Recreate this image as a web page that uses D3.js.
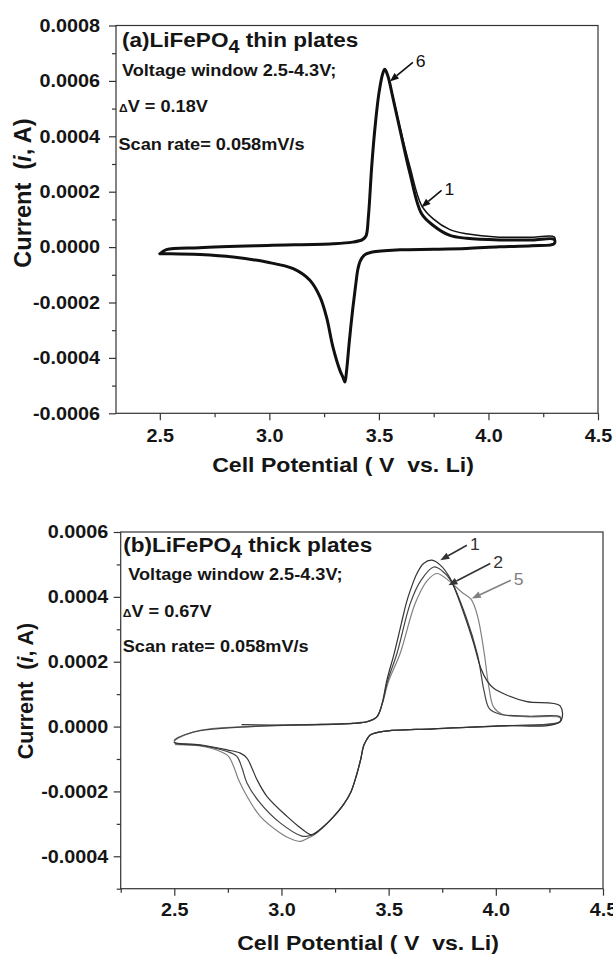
<!DOCTYPE html>
<meta charset="utf-8">
<style>
body { margin: 0; background: #fff; }
text { font-family: "Liberation Sans", Arial, sans-serif; fill: #151515; }
.axis path, .axis line { stroke: #333; stroke-width: 1.2; }
.axis text { font-size: 18px; font-weight: bold; fill: #151515; font-family: "Liberation Sans", Arial, sans-serif; }
.cv { fill: none; stroke-linejoin: round; stroke-linecap: round; }
</style>
<body>
<script src="https://cdn.jsdelivr.net/npm/d3@7"></script>
<script>

// tick values
var xTicks = [2.5, 3.0, 3.5, 4.0, 4.5];
var xMinorA = [2.75, 3.25, 3.75, 4.25];
var xMinorB = [2.25, 2.75, 3.25, 3.75, 4.25];
var yTicksA = [-0.0006, -0.0004, -0.0002, 0, 0.0002, 0.0004, 0.0006, 0.0008];
var yMinorA = [-0.0005, -0.0003, -0.0001, 0.0001, 0.0003, 0.0005, 0.0007];
var yTicksB = [-0.0004, -0.0002, 0, 0.0002, 0.0004, 0.0006];
var yMinorB = [-0.0005, -0.0003, -0.0001, 0.0001, 0.0003, 0.0005];

// (a) thin plates, [V, A]
var thinCycle1 = [
  [2.50,-0.000024],[2.53,-0.000009],[2.68,-0.000002],[2.99,0.000006],[3.29,0.000012],
  [3.38,0.000018],[3.425,0.000027],[3.441,0.00004],[3.452,0.00011],[3.467,0.00029],
  [3.482,0.00043],[3.50,0.000555],[3.518,0.000628],[3.527,0.000644],[3.54,0.000622],
  [3.565,0.00054],[3.596,0.000433],[3.642,0.000289],[3.695,0.00015],[3.748,0.000102],
  [3.824,0.000063],[3.90,0.000048],[4.05,0.000036],[4.20,0.000036],[4.30,0.000037],
  [4.30,0.000014],[4.20,0.000006],[4.05,0.000001],[3.90,-0.000005],[3.75,-0.000008],
  [3.596,-0.00001],[3.47,-0.000018],[3.435,-0.000028],[3.415,-0.00005],[3.404,-0.00008],
  [3.395,-0.00013],[3.381,-0.00022],[3.365,-0.00034],[3.352,-0.00045],[3.345,-0.000487],
  [3.336,-0.00047],[3.322,-0.000445],[3.29,-0.00036],[3.261,-0.000253],[3.231,-0.00018],
  [3.185,-0.00012],[3.109,-0.000078],[2.987,-0.000054],[2.835,-0.000036],[2.683,-0.000027],
  [2.55,-0.000024],[2.50,-0.000024]
];
var thinCycle6 = [
  [2.50,-0.000024],[2.53,-0.000009],[2.68,-0.000002],[2.99,0.000006],[3.29,0.000012],
  [3.38,0.000018],[3.425,0.000027],[3.441,0.00004],[3.452,0.00011],[3.467,0.00029],
  [3.482,0.00043],[3.50,0.000555],[3.518,0.000628],[3.527,0.000642],[3.54,0.00062],
  [3.565,0.000535],[3.596,0.000425],[3.642,0.000265],[3.695,0.00012],[3.748,0.000078],
  [3.824,0.000042],[3.90,0.000032],[4.05,0.000026],[4.20,0.000026],[4.30,0.000028],
  [4.30,0.000012],[4.20,0.000005],[4.05,0.000001],[3.90,-0.000005],[3.75,-0.000008],
  [3.596,-0.00001],[3.47,-0.000018],[3.435,-0.000028],[3.415,-0.00005],[3.404,-0.00008],
  [3.395,-0.00013],[3.381,-0.00022],[3.365,-0.00034],[3.352,-0.00045],[3.345,-0.000487],
  [3.336,-0.00047],[3.322,-0.000445],[3.29,-0.00036],[3.261,-0.000253],[3.231,-0.00018],
  [3.185,-0.00012],[3.109,-0.000078],[2.987,-0.000054],[2.835,-0.000036],[2.683,-0.000027],
  [2.55,-0.000024],[2.50,-0.000024]
];

// (b) thick plates, [V, A]
var thickCycle1 = [
  [2.816,0.000006],[3.09,0.000005],[3.336,0.00001],[3.40,0.000015],[3.445,0.00003],
  [3.469,0.00007],[3.492,0.000144],[3.526,0.000226],[3.56,0.00032],[3.582,0.00038],
  [3.601,0.00042],[3.632,0.000472],[3.663,0.000503],[3.702,0.000513],[3.741,0.000498],
  [3.787,0.000457],[3.85,0.00035],[3.895,0.00026],[3.93,0.00018],[3.96,0.00014],
  [3.99,0.000118],[4.05,0.0000975],[4.145,0.000077],[4.30,0.000064],
  [4.30,0.000015],[4.02,0.000002],[3.709,-0.000007],[3.476,-0.000015],[3.414,-0.000026],
  [3.398,-0.00004],[3.383,-0.00006],[3.37,-0.0001],[3.35,-0.00015],[3.325,-0.0002],
  [3.29,-0.00024],[3.24,-0.00028],[3.19,-0.000312],[3.15,-0.000331],[3.134,-0.000333],
  [3.08,-0.000308],[3.026,-0.000277],[2.932,-0.000215],[2.886,-0.000164],[2.862,-0.000128],
  [2.839,-0.000097],[2.808,-0.000082],[2.746,-0.000072],[2.621,-0.000056],[2.51,-0.000051],
  [2.50,-0.000048]
];
var thickCycle2 = [
  [2.50,-0.000042],[2.52,-0.000033],[2.62,-0.000013],[2.808,-0.000002],[3.09,0.000005],
  [3.336,0.00001],[3.40,0.000015],[3.445,0.00003],[3.47,0.00007],[3.495,0.00014],
  [3.539,0.000226],[3.601,0.00038],[3.65,0.00045],[3.71,0.000492],[3.75,0.00048],
  [3.79,0.00045],[3.86,0.00034],[3.915,0.00022],[3.945,0.00011],[3.97,0.000055],
  [4.02,0.000038],[4.15,0.000032],[4.30,0.00003],
  [4.30,0.000016],[4.02,0.000002],[3.709,-0.000007],[3.476,-0.000015],[3.414,-0.000026],
  [3.398,-0.00004],[3.383,-0.00006],[3.37,-0.0001],[3.35,-0.00015],[3.325,-0.0002],
  [3.29,-0.00024],[3.24,-0.00028],[3.19,-0.000312],[3.15,-0.000333],[3.12,-0.000338],
  [3.096,-0.000338],[2.994,-0.000297],[2.901,-0.000236],[2.839,-0.000174],[2.816,-0.000128],
  [2.792,-0.000092],[2.746,-0.000077],[2.62,-0.000058],[2.51,-0.000053],[2.50,-0.000049]
];
var thickCycle5 = [
  [2.50,-0.000045],[2.52,-0.000035],[2.62,-0.000012],[2.808,-0.000001],[3.09,0.000006],
  [3.336,0.000011],[3.40,0.000016],[3.445,0.00003],[3.47,0.00007],[3.50,0.00014],
  [3.554,0.000226],[3.624,0.00038],[3.68,0.00045],[3.725,0.000472],[3.78,0.00045],
  [3.84,0.000415],[3.885,0.000392],[3.915,0.00034],[3.945,0.00023],[3.968,0.00012],
  [3.99,0.00006],[4.03,0.000038],[4.15,0.00003],[4.30,0.000027],
  [4.30,0.000014],[4.02,0.000002],[3.709,-0.000007],[3.476,-0.000015],[3.414,-0.000026],
  [3.398,-0.00004],[3.383,-0.00006],[3.37,-0.0001],[3.35,-0.00015],[3.325,-0.0002],
  [3.29,-0.00024],[3.24,-0.00028],[3.19,-0.000314],[3.15,-0.000335],[3.12,-0.000345],
  [3.088,-0.000354],[3.04,-0.000345],[2.994,-0.000328],[2.901,-0.000277],[2.839,-0.000215],
  [2.80,-0.000164],[2.777,-0.000123],[2.753,-0.000092],[2.715,-0.000077],[2.62,-0.00006],
  [2.505,-0.000056]
];

var notesA = ["Voltage window 2.5-4.3V;", "V = 0.18V", "Scan rate= 0.058mV/s"];
var notesB = ["Voltage window 2.5-4.3V;", "V = 0.67V", "Scan rate= 0.058mV/s"];

var W = 613, H = 954, SX = 1.1;
var fmtY = function(d) { return d3.format(".4f")(d).replace("\u2212", "-"); };

var svg = d3.select("body").append("svg")
    .attr("width", W)
    .attr("height", H);

// text stretched a bit sideways like the scanned figure
function addText(g, x, y, size, weight) {
  return g.append("text")
      .attr("transform", "translate(" + x + "," + y + ") scale(" + SX + ",1)")
      .style("font-size", size + "px")
      .style("font-weight", weight || "bold");
}

function drawArrow(g, x, y, a, color) {
  var x0 = x(a.from[0]), y0 = y(a.from[1]), x1 = x(a.to[0]), y1 = y(a.to[1]);
  var ang = Math.atan2(y1 - y0, x1 - x0), L = 9, hw = 3.5;
  var bx = x1 - L * Math.cos(ang), by = y1 - L * Math.sin(ang);
  g.append("line")
      .attr("x1", x0).attr("y1", y0).attr("x2", bx).attr("y2", by)
      .attr("stroke", color).attr("stroke-width", 1.6);
  g.append("path")
      .attr("d", "M" + x1 + "," + y1 +
        "L" + (bx + hw * Math.sin(ang)) + "," + (by - hw * Math.cos(ang)) +
        "L" + (bx - hw * Math.sin(ang)) + "," + (by + hw * Math.cos(ang)) + "Z")
      .attr("fill", color);
  addText(g, x0 + 3, y0 + 5, 16, "normal").text(a.label).style("fill", color);
}

function drawPanel(p) {
  var x = d3.scaleLinear().domain(p.xDomain).range([p.left, p.right]);
  var y = d3.scaleLinear().domain(p.yDomain).range([p.bottom, p.top]);
  var g = svg.append("g");

  // frame
  g.append("rect")
      .attr("x", p.left).attr("y", p.top)
      .attr("width", p.right - p.left).attr("height", p.bottom - p.top)
      .attr("fill", "none").attr("stroke", "#333").attr("stroke-width", 1.2);

  g.append("g").attr("class", "axis")
      .attr("transform", "translate(0," + p.bottom + ")")
      .call(d3.axisBottom(x).tickValues(p.xMinor).tickSize(4).tickFormat(""));
  var xa = g.append("g").attr("class", "axis")
      .attr("transform", "translate(0," + p.bottom + ")")
      .call(d3.axisBottom(x).tickValues(xTicks).tickFormat(d3.format(".1f"))
        .tickSize(7).tickSizeOuter(0).tickPadding(p.xPad));
  xa.selectAll("text").attr("transform", "scale(" + SX + ",1)");

  g.append("g").attr("class", "axis")
      .attr("transform", "translate(" + p.left + ",0)")
      .call(d3.axisLeft(y).tickValues(p.yMinor).tickSize(4).tickFormat(""));
  var ya = g.append("g").attr("class", "axis")
      .attr("transform", "translate(" + p.left + ",0)")
      .call(d3.axisLeft(y).tickValues(p.yTicks).tickFormat(fmtY)
        .tickSize(7).tickSizeOuter(0).tickPadding(p.yPad));
  ya.selectAll("text").attr("transform", "scale(" + SX + ",1)");
  g.selectAll(".axis .domain").remove();

  var line = d3.line()
      .x(function(d) { return x(d[0]); })
      .y(function(d) { return y(d[1]); })
      .curve(d3.curveCatmullRom.alpha(0.5));

  p.series.forEach(function(s) {
    g.append("path").attr("class", "cv")
        .attr("d", line(s.data))
        .attr("stroke", s.color)
        .attr("stroke-width", s.width);
  });

  // axis titles
  addText(g, p.xTitleX, p.xTitleY, 21).attr("text-anchor", "middle")
      .style("white-space", "pre")
      .text("Cell Potential ( V  vs. Li)");
  var yt = g.append("text")
      .attr("transform", "translate(" + p.yTitleX + "," + p.yTitleY + ") rotate(-90)")
      .attr("text-anchor", "middle")
      .style("font-size", p.yTitleSize + "px").style("font-weight", "bold")
      .style("white-space", "pre");
  yt.append("tspan").text("Current  (");
  yt.append("tspan").style("font-style", "italic").text("i");
  yt.append("tspan").text(", A)");

  // panel heading and notes
  var t = addText(g, p.left + p.noteDx, p.headY, 20.5);
  t.append("tspan").text(p.head[0]);
  t.append("tspan").attr("dy", 6).style("font-size", "18px").text("4");
  t.append("tspan").attr("dy", -6).text(p.head[1]);

  p.noteY.forEach(function(ny, i) {
    var n = addText(g, p.left + p.noteDx2[i], ny, 16.5);
    if (i === 1) n.append("tspan").style("font-size", "11px").text("\u0394");
    n.append("tspan").text(p.notes[i]);
  });

  p.arrows.forEach(function(a) { drawArrow(g, x, y, a, a.color); });
}

drawPanel({
  xDomain: [2.3, 4.5], yDomain: [-0.0006, 0.0008],
  left: 116, right: 598, top: 25.5, bottom: 413.3,
  xMinor: xMinorA, yTicks: yTicksA, yMinor: yMinorA,
  xPad: 9, yPad: 7.5,
  xTitleX: 343, xTitleY: 472, yTitleX: 31, yTitleY: 193, yTitleSize: 23.5,
  head: ["(a)LiFePO", " thin plates"], headY: 47, noteDx: 6,
  notes: notesA, noteY: [76, 111.5, 150], noteDx2: [6, 3, 2.5],
  series: [
    { data: thinCycle6, color: "#111", width: 3 },
    { data: thinCycle1, color: "#111", width: 1.5 }
  ],
  arrows: [
    { label: "6", from: [3.655, 0.000667], to: [3.55, 0.000598], color: "#111" },
    { label: "1", from: [3.786, 0.000205], to: [3.694, 0.000144], color: "#111" }
  ]
});

drawPanel({
  xDomain: [2.25, 4.5], yDomain: [-0.0005, 0.0006],
  left: 120.7, right: 603, top: 532, bottom: 888.7,
  xMinor: xMinorB, yTicks: yTicksB, yMinor: yMinorB,
  xPad: 8, yPad: 4.3,
  xTitleX: 368, xTitleY: 950, yTitleX: 33, yTitleY: 691, yTitleSize: 21.5,
  head: ["(b)LiFePO", " thick plates"], headY: 551.7, noteDx: 2.6,
  notes: notesB, noteY: [580, 616.7, 652.3], noteDx2: [7.6, 2, 2],
  series: [
    { data: thickCycle5, color: "#808080", width: 1.2 },
    { data: thickCycle2, color: "#444", width: 1.2 },
    { data: thickCycle1, color: "#333", width: 1.2 }
  ],
  arrows: [
    { label: "1", from: [3.865, 0.000559], to: [3.741, 0.000513], color: "#333" },
    { label: "2", from: [3.974, 0.000503], to: [3.779, 0.000436], color: "#333" },
    { label: "5", from: [4.07, 0.000451], to: [3.888, 0.000395], color: "#808080" }
  ]
});

</script>
</body>
